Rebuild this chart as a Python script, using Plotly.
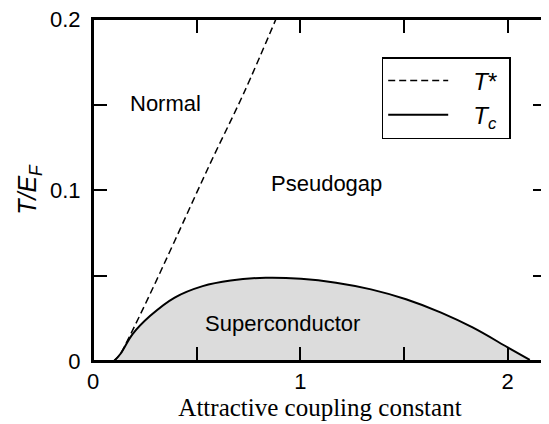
import plotly.graph_objects as go

# T_c curve (superconducting transition)
tc_x = [0.101, 0.132, 0.191, 0.276, 0.394, 0.529, 0.664, 0.833, 1.003, 1.172,
        1.341, 1.510, 1.679, 1.831, 2.000, 2.107]
tc_y = [0.0, 0.0041, 0.0157, 0.0264, 0.0371, 0.0438, 0.0471, 0.0487, 0.0481,
        0.0458, 0.0419, 0.0361, 0.0283, 0.0196, 0.0080, 0.0006]

# T* curve (pseudogap onset)
ts_x = [0.101, 0.132, 0.174, 0.275, 0.394, 0.563, 0.731, 0.884]
ts_y = [0.0, 0.0041, 0.0138, 0.0391, 0.0702, 0.1149, 0.1576, 0.2004]

x_tickvals = [0, 1, 2]
x_minor = [0.5, 1.5]
y_tickvals = [0, 0.1, 0.2]
y_ticktext = ["0", "0.1", "0.2"]
y_minor = [0.05, 0.15]

region_labels = ["Normal", "Pseudogap", "Superconductor"]
region_x = [0.351, 1.124, 0.913]
region_y = [0.1506, 0.104, 0.0218]

font_sans = "Liberation Sans, Arial, sans-serif"

fig = go.Figure()
fig.add_trace(go.Scatter(x=tc_x, y=tc_y, mode="lines", fill="tozeroy",
                         fillcolor="#dcdcdc", line=dict(width=0, shape="spline"),
                         showlegend=False, hoverinfo="skip"))
fig.add_trace(go.Scatter(x=ts_x, y=ts_y, mode="lines",
                         name="&nbsp;&nbsp;&nbsp;<i>T</i>*&nbsp;",
                         line=dict(color="black", width=1.5, dash="7px,4px", shape="spline")))
fig.add_trace(go.Scatter(x=tc_x, y=tc_y, mode="lines",
                         name="&nbsp;&nbsp;&nbsp;<i>T<sub>c</sub></i>&nbsp;",
                         line=dict(color="black", width=2, shape="spline")))

for t, x, y in zip(region_labels, region_x, region_y):
    fig.add_annotation(x=x, y=y, text=t, showarrow=False,
                       font=dict(family=font_sans, size=22, color="black"))

# plot frame
fig.add_shape(type="rect", xref="paper", yref="paper", x0=0, x1=1, y0=0, y1=1,
              line=dict(color="black", width=2), layer="above")

axis_common = dict(showline=True, linecolor="black", linewidth=2, mirror="ticks",
                   ticks="inside", ticklen=14, tickwidth=1.5, tickcolor="black",
                   showgrid=False, zeroline=False, automargin=False,
                   ticklabeloverflow="allow",
                   tickfont=dict(family=font_sans, size=22, color="black"))

fig.update_xaxes(range=[0, 2.19], tickvals=x_tickvals,
                 minor=dict(tickvals=x_minor, ticks="inside", ticklen=14,
                            tickwidth=1.5, tickcolor="black", showgrid=False),
                 title=dict(text="Attractive coupling constant",
                            font=dict(family="Liberation Serif, Times New Roman, serif",
                                      size=25, color="black"), standoff=2),
                 ticklabelstandoff=0, **axis_common)
fig.update_yaxes(range=[0, 0.2], tickvals=y_tickvals, ticktext=y_ticktext,
                 minor=dict(tickvals=y_minor, ticks="inside", ticklen=14,
                            tickwidth=1.5, tickcolor="black", showgrid=False),
                 title=dict(text="<i>T/E<sub>F</sub></i>",
                            font=dict(family=font_sans, size=25, color="black"), standoff=6),
                 ticklabelstandoff=6, **axis_common)

fig.update_layout(
    width=549, height=424,
    margin=dict(l=85, r=10, t=11, b=71),
    plot_bgcolor="white", paper_bgcolor="white",
    legend=dict(x=(381.7 - 93) / 454, y=(361 - 57) / 342, xanchor="left", yanchor="top",
                bordercolor="black", borderwidth=1.5, bgcolor="white",
                font=dict(family=font_sans, size=24, color="black"),
                itemwidth=60, tracegroupgap=0),
)

fig.write_html("out.html")
